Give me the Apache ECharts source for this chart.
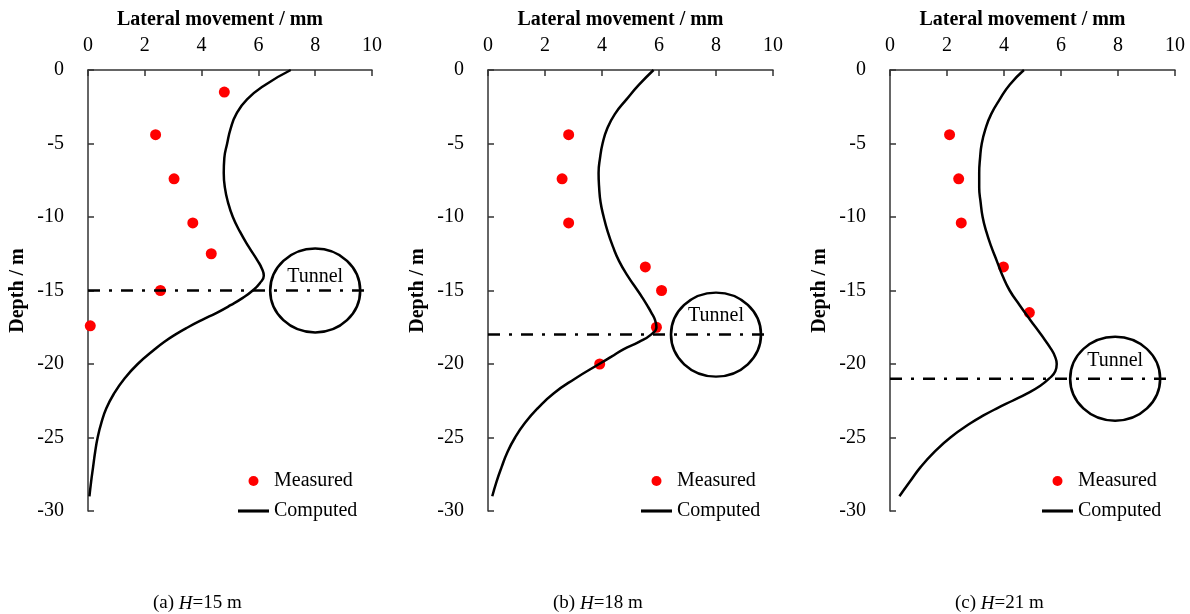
<!DOCTYPE html>
<html>
<head>
<meta charset="utf-8">
<script src="https://cdn.jsdelivr.net/npm/echarts@6/dist/echarts.min.js"></script>
<style>
html, body { margin: 0; padding: 0; background: #fff; }
#main { width: 1190px; height: 614px; }
</style>
</head>
<body>
<div id="main"></div>
<script>
var myChart = echarts.init(document.getElementById('main'));

// measured points (lateral movement mm, depth m)
var measMoveA = [4.80, 2.38, 3.03, 3.69, 4.34, 2.55, 0.08];
var measDepthA = [-1.5, -4.4, -7.4, -10.4, -12.5, -15.0, -17.4];
var measMoveB = [2.83, 2.60, 2.83, 5.52, 6.09, 5.91, 3.92];
var measDepthB = [-4.4, -7.4, -10.4, -13.4, -15.0, -17.5, -20.0];
var measMoveC = [2.09, 2.41, 2.50, 3.98, 4.89];
var measDepthC = [-4.4, -7.4, -10.4, -13.4, -16.5];

// computed curves
var compDepthA = [0, -1, -2, -3, -4, -5, -6, -7, -8, -9, -10, -11, -12, -13, -13.5, -14, -14.5, -15, -15.5, -16, -16.5, -17, -17.5, -18, -18.5, -19, -20, -21, -22, -23, -24, -25, -26, -27, -28, -29];
var compMoveA = [7.14, 6.25, 5.60, 5.22, 5.02, 4.90, 4.80, 4.78, 4.82, 4.93, 5.10, 5.35, 5.65, 5.98, 6.12, 6.19, 6.05, 5.80, 5.45, 5.02, 4.55, 4.02, 3.52, 3.07, 2.68, 2.35, 1.75, 1.28, 0.92, 0.65, 0.47, 0.34, 0.25, 0.18, 0.11, 0.05];
var compDepthB = [0, -1, -2, -3, -4, -5, -6, -7, -8, -9, -10, -11, -12, -13, -14, -15, -15.5, -16, -16.5, -17, -17.5, -18, -18.5, -19, -19.5, -20, -21, -22, -23, -24, -25, -26, -27, -28, -29];
var compMoveB = [5.81, 5.30, 4.86, 4.45, 4.18, 4.02, 3.93, 3.88, 3.90, 3.95, 4.06, 4.20, 4.38, 4.60, 4.90, 5.25, 5.42, 5.58, 5.73, 5.86, 5.91, 5.72, 5.30, 4.75, 4.33, 3.90, 3.05, 2.30, 1.75, 1.30, 0.95, 0.68, 0.48, 0.30, 0.15];
var compDepthC = [0, -1, -2, -3, -4, -5, -6, -7, -8, -9, -10, -11, -12, -13, -14, -15, -16, -17, -18, -19, -19.5, -20, -20.5, -21, -21.5, -22, -22.5, -23, -23.5, -24, -25, -26, -27, -28, -29];
var compMoveC = [4.70, 4.20, 3.85, 3.55, 3.35, 3.22, 3.16, 3.13, 3.13, 3.18, 3.25, 3.38, 3.55, 3.75, 3.95, 4.20, 4.55, 4.92, 5.30, 5.66, 5.79, 5.85, 5.80, 5.58, 5.26, 4.82, 4.30, 3.77, 3.28, 2.85, 2.12, 1.55, 1.08, 0.70, 0.33];

// tunnel centre (x, depth) and axis line
var tunnelX = [8.0, 8.0, 7.9];
var tunnelDepth = [-15, -18, -21];
var axisSpan = [0, 10];
var captions = ['(a) {i|H}=15 m', '(b) {i|H}=18 m', '(c) {i|H}=21 m'];

function zip(xs, ys) {
  var out = [];
  for (var i = 0; i < xs.length; i++) out.push([xs[i], ys[i]]);
  return out;
}

var font = 'Liberation Serif, Times New Roman, serif';
var gridLeft = [88, 488, 890];
var gridWidth = [284, 285, 285];
var legendLeft = [233, 636, 1037];
var captionLeft = [148, 548, 950];
var tunnelLabelOff = [-14, -19, -18];
var meas = [zip(measMoveA, measDepthA), zip(measMoveB, measDepthB), zip(measMoveC, measDepthC)];
var comp = [zip(compMoveA, compDepthA), zip(compMoveB, compDepthB), zip(compMoveC, compDepthC)];

var grids = [], xAxes = [], yAxes = [], series = [], legends = [], titles = [];
var axisColor = '#333';

for (var p = 0; p < 3; p++) {
  grids.push({ left: gridLeft[p], top: 70, width: gridWidth[p], height: 441 });
  xAxes.push({
    gridIndex: p, type: 'value', position: 'top', min: 0, max: 10, interval: 2,
    name: 'Lateral movement / mm', nameLocation: 'middle', nameGap: 40,
    nameTextStyle: { fontSize: 20, fontWeight: 'bold', color: '#000', fontFamily: font, padding: [0, 20, 0, 0] },
    axisLine: { onZero: false, lineStyle: { color: axisColor, width: 1.5 } },
    axisTick: { inside: true, length: 6, lineStyle: { color: axisColor, width: 1.5 } },
    axisLabel: { fontSize: 20, color: '#000', fontFamily: font, margin: 14 },
    splitLine: { show: false }
  });
  yAxes.push({
    gridIndex: p, type: 'value', min: -30, max: 0, interval: 5,
    name: 'Depth / m', nameLocation: 'middle', nameGap: 60,
    nameTextStyle: { fontSize: 20, fontWeight: 'bold', color: '#000', fontFamily: font },
    axisLine: { onZero: false, lineStyle: { color: axisColor, width: 1.5 } },
    axisTick: { inside: true, length: 6, lineStyle: { color: axisColor, width: 1.5 } },
    axisLabel: { fontSize: 20, color: '#000', fontFamily: font, margin: 24 },
    splitLine: { show: false }
  });
  series.push({
    name: 'Tunnel axis', type: 'line', xAxisIndex: p, yAxisIndex: p,
    data: [[axisSpan[0], tunnelDepth[p]], [axisSpan[1], tunnelDepth[p]]],
    symbol: 'none', silent: true,
    lineStyle: { color: '#000', width: 2.5, type: [12, 9, 3, 9] }
  });
  series.push({
    name: 'Tunnel', type: 'scatter', xAxisIndex: p, yAxisIndex: p,
    data: [[tunnelX[p], tunnelDepth[p]]],
    symbol: 'circle', symbolSize: [90, 84], silent: true,
    itemStyle: { color: 'rgba(0,0,0,0)', borderColor: '#000', borderWidth: 2.5, opacity: 1 },
    label: { show: true, formatter: 'Tunnel', position: 'inside', offset: [0, tunnelLabelOff[p]],
      fontSize: 20, color: '#000', fontFamily: font }
  });
  series.push({
    name: 'Computed', type: 'line', xAxisIndex: p, yAxisIndex: p,
    data: comp[p], smooth: 0.5, symbol: 'none',
    lineStyle: { color: '#000', width: 2.5 }, itemStyle: { color: '#000' }
  });
  series.push({
    name: 'Measured', type: 'scatter', xAxisIndex: p, yAxisIndex: p,
    data: meas[p], symbolSize: 11, itemStyle: { color: '#ff0000', opacity: 1 }
  });
  legends.push({
    data: ['Measured', { name: 'Computed', icon: 'path://M0,0H10V1H0Z' }],
    orient: 'vertical', left: legendLeft[p], top: 466,
    itemWidth: 31, itemHeight: 10, itemGap: 10,
    textStyle: { fontSize: 20, color: '#000', fontFamily: font }
  });
  titles.push({
    text: captions[p], left: captionLeft[p], top: 589,
    textStyle: { fontSize: 19, fontWeight: 'normal', color: '#000', fontFamily: font,
      rich: { i: { fontSize: 19, fontStyle: 'italic', color: '#000', fontFamily: font } } }
  });
}

var option = {
  animation: false,
  backgroundColor: '#fff',
  textStyle: { fontFamily: font },
  title: titles,
  legend: legends,
  grid: grids,
  xAxis: xAxes,
  yAxis: yAxes,
  series: series
};

myChart.setOption(option);
</script>
</body>
</html>
